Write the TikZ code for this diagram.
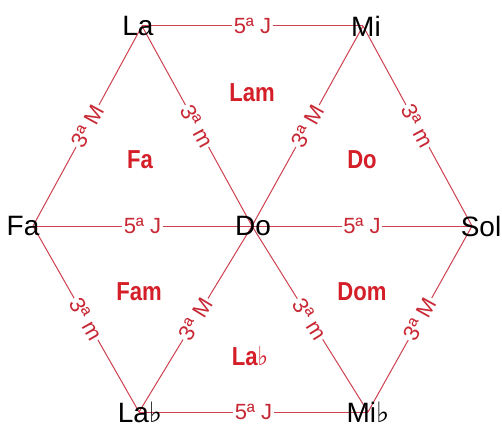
\documentclass[tikz,border=0pt]{standalone}
\usepackage{fontspec}
\setmainfont{Liberation Sans}
\newfontfamily\symfam{DejaVu Sans}
\newcommand{\myflat}{{\symfam\char"266D}}
\definecolor{edgered}{RGB}{206,66,80}
\definecolor{labred}{RGB}{200,40,52}
\definecolor{trired}{RGB}{212,30,40}
\begin{document}
\begin{tikzpicture}[x=1pt,y=-1pt,
  vtx/.style={inner sep=0pt,font=\fontsize{28}{28}\selectfont,text=black},
  edge/.style={draw=edgered,line width=1pt},
  elab/.style={fill=white,inner sep=1.5pt,sloped,text=labred,font=\fontsize{22}{22}\selectfont},
  tri/.style={inner sep=0pt,text=trired,font=\fontsize{26}{26}\selectfont\bfseries,xscale=0.85}]
\useasboundingbox (0,0) rectangle (502,436);
\fill[white] (0,0) rectangle (502,436);
% vertices
\coordinate (vLa) at (142,26);
\coordinate (vMi) at (363,26);
\coordinate (vFa) at (33,226);
\coordinate (vDo) at (252,226);
\coordinate (vSol) at (472,226);
\coordinate (vLab) at (139,412);
\coordinate (vMib) at (368,412);
% edges with labels
\path[edge] (vLa) -- node[elab] {5ª J} (vMi);
\path[edge] (vFa) -- node[elab] {5ª J} (vDo);
\path[edge] (vDo) -- node[elab] {5ª J} (vSol);
\path[edge] (vLab) -- node[elab] {5ª J} (vMib);
\path[edge] (vFa) -- node[elab] {3ª M} (vLa);
\path[edge] (vLa) -- node[elab] {3ª m} (vDo);
\path[edge] (vDo) -- node[elab] {3ª M} (vMi);
\path[edge] (vMi) -- node[elab] {3ª m} (vSol);
\path[edge] (vFa) -- node[elab] {3ª m} (vLab);
\path[edge] (vLab) -- node[elab] {3ª M} (vDo);
\path[edge] (vDo) -- node[elab] {3ª m} (vMib);
\path[edge] (vMib) -- node[elab] {3ª M} (vSol);
% vertex labels
\node[vtx] (La) at (138,26) {La};
\node[vtx] (Mi) at (366,26) {Mi};
\node[vtx] (Fa) at (23,226) {Fa};
\node[vtx] (Do) at (253,226) {Do};
\node[vtx] (Sol) at (481,226) {Sol};
\node[vtx] (Lab) at (140,412) {La\myflat};
\node[vtx] (Mib) at (368,412) {Mi\myflat};
% triad labels
\node[tri] (tLam) at (252,93) {Lam};
\node[tri] (tFa) at (140,160) {Fa};
\node[tri] (tDo) at (362,160) {Do};
\node[tri] (tFam) at (139,292) {Fam};
\node[tri] (tDom) at (362,292) {Dom};
\node[tri] (tLab) at (250,356) {La\myflat};
\end{tikzpicture}
\end{document}
